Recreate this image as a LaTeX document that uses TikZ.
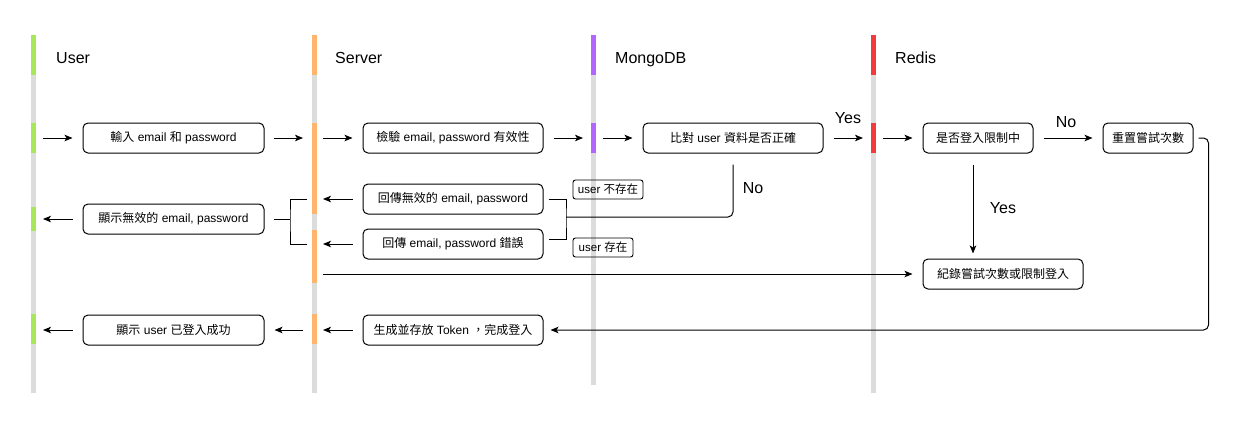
\documentclass[tikz,border=0pt]{standalone}
\usepackage{fontspec}
\setmainfont{Liberation Sans}
\newfontfamily\cjk{Noto Sans CJK TC}
\newcommand\zhc[1]{{\cjk #1}}
\usetikzlibrary{arrows.meta}
\definecolor{lgreen}{HTML}{A6E85A}
\definecolor{lorange}{HTML}{FFB570}
\definecolor{lpurple}{HTML}{B266FF}
\definecolor{lred}{HTML}{F43B3B}
\definecolor{lgrey}{HTML}{DCDCDC}
\tikzset{
  box/.style={draw=black, line width=1pt, rounded corners=5pt, minimum height=30pt, inner sep=0pt, font=\fontsize{12}{14}\selectfont},
  tagbox/.style={draw=black, line width=0.9pt, rounded corners=2.5pt, minimum height=19pt, inner sep=0pt, font=\fontsize{11.5}{13}\selectfont},
  hdr/.style={anchor=base west, inner sep=0pt, font=\fontsize{16}{18}\selectfont},
  lbl/.style={inner sep=0pt, font=\fontsize{16}{18}\selectfont},
  arr/.style={line width=1pt, -{Stealth[length=8pt,width=6.5pt,inset=2pt]}},
  ln/.style={line width=1pt},
  life/.style={line width=5pt, lgrey},
  act/.style={line width=5pt},
}
\begin{document}
\begin{tikzpicture}[x=1pt,y=-1pt]
\useasboundingbox[fill=white] (0,0) rectangle (1247,429);

% lifelines
\draw[life] (33,75) -- (33,393);
\draw[life] (314,75) -- (314,393);
\draw[life] (593,75) -- (593,385);
\draw[life] (873,75) -- (873,393);

% headers / activations
\draw[act, lgreen] (33,35) -- (33,75);
\draw[act, lgreen] (33,123) -- (33,153);
\draw[act, lgreen] (33,207) -- (33,231);
\draw[act, lgreen] (33,314) -- (33,344);
\draw[act, lorange] (314,35) -- (314,75);
\draw[act, lorange] (314,123) -- (314,214);
\draw[act, lorange] (314,230) -- (314,283);
\draw[act, lorange] (314,314) -- (314,344);
\draw[act, lpurple] (593,35) -- (593,75);
\draw[act, lpurple] (593,123) -- (593,153);
\draw[act, lred] (873,35) -- (873,75);
\draw[act, lred] (873,123) -- (873,153);

\node[hdr] (hU) at (56,63) {User};
\node[hdr] (hS) at (335,63) {Server};
\node[hdr] (hM) at (615,63) {MongoDB};
\node[hdr] (hR) at (895,63) {Redis};

% lifeline points
\coordinate (u1) at (33,138);
\coordinate (s1) at (314,138);
\coordinate (m1) at (593,138);
\coordinate (r1) at (873,138);
\coordinate (u2) at (33,219);
\coordinate (s2a) at (314,199);
\coordinate (s2b) at (314,244);
\coordinate (s3) at (314,274);
\coordinate (u4) at (33,330);
\coordinate (s4) at (314,330);

% boxes
\node[box, minimum width=181pt] (A) at (173.5,138) {\zhc{輸入} email \zhc{和} password};
\node[box, minimum width=180pt] (B) at (453,138) {\zhc{檢驗} email, password \zhc{有效性}};
\node[box, minimum width=180pt] (C) at (733,138) {\zhc{比對} user \zhc{資料是否正確}};
\node[box, minimum width=110pt] (D) at (978,138) {\zhc{是否登入限制中}};
\node[box, minimum width=90pt] (E) at (1148,138) {\zhc{重置嘗試次數}};
\node[box, minimum width=181pt] (F) at (173.5,219) {\zhc{顯示無效的} email, password};
\node[box, minimum width=180pt] (G) at (453,199) {\zhc{回傳無效的} email, password};
\node[box, minimum width=180pt] (H) at (453,244) {\zhc{回傳} email, password \zhc{錯誤}};
\node[box, minimum width=160pt] (I) at (1003,274) {\zhc{紀錄嘗試次數或限制登入}};
\node[box, minimum width=181pt] (J) at (173.5,330) {\zhc{顯示} user \zhc{已登入成功}};
\node[box, minimum width=180pt] (K) at (453,330) {\zhc{生成並存放} Token \zhc{，完成登入}};
\node[tagbox, minimum width=70pt] (T1) at (608,189.5) {user \zhc{不存在}};
\node[tagbox, minimum width=60pt] (T2) at (603,247.5) {user \zhc{存在}};

% row 1
\draw[arr] ([xshift=10pt]u1) -- ([xshift=-10pt]A.west);
\draw[arr] ([xshift=9pt]A.east) -- ([xshift=-11pt]s1);
\draw[arr] ([xshift=9pt]s1) -- ([xshift=-10pt]B.west);
\draw[arr] ([xshift=10pt]B.east) -- ([xshift=-10pt]m1);
\draw[arr] ([xshift=10pt]m1) -- ([xshift=-10pt]C.west);
\draw[arr] ([xshift=10pt]C.east) -- ([xshift=-10pt]r1);
\draw[arr] ([xshift=10pt]r1) -- ([xshift=-10pt]D.west);
\draw[arr] ([xshift=10pt]D.east) -- ([xshift=-10pt]E.west);
\node[lbl] (yes1) at (848,118) {Yes};
\node[lbl] (no1) at (1066,122) {No};

% row 2
\draw[arr] ([xshift=-10pt]G.west) -- ([xshift=9pt]s2a);
\draw[arr] ([xshift=-10pt]H.west) -- ([xshift=9pt]s2b);
\draw[arr] ([xshift=-10pt]F.west) -- ([xshift=10pt]u2);
\coordinate (bl) at (290,219);
\coordinate (br) at (566,217);
\draw[ln] ([xshift=-7pt]s2a) -| (bl) |- ([xshift=-7pt]s2b);
\draw[ln] ([xshift=9pt]F.east) -- (bl);
\draw[ln] ([xshift=5pt]G.east) -| (br) |- ([xshift=5pt,yshift=5pt]H.east);
\draw[ln, rounded corners=5pt] ([yshift=-11pt]C.south) |- (br);
\node[lbl] (no2) at (753,188) {No};

% row 3
\draw[arr] ([xshift=9pt]s3) -- ([xshift=-10pt]I.west);
\draw[arr] ([xshift=-5pt,yshift=-11pt]D.south) -- ++(0,89);
\node[lbl] (yes2) at (1003,208) {Yes};

% row 4
\draw[arr, rounded corners=5pt] ([xshift=5pt]E.east) -- ++(10,0) |- ([xshift=7pt]K.east);
\draw[arr] ([xshift=-10pt]K.west) -- ([xshift=9pt]s4);
\draw[arr] ([xshift=-11pt]s4) -- ([xshift=10pt]J.east);
\draw[arr] ([xshift=-10pt]J.west) -- ([xshift=10pt]u4);
\end{tikzpicture}
\end{document}
